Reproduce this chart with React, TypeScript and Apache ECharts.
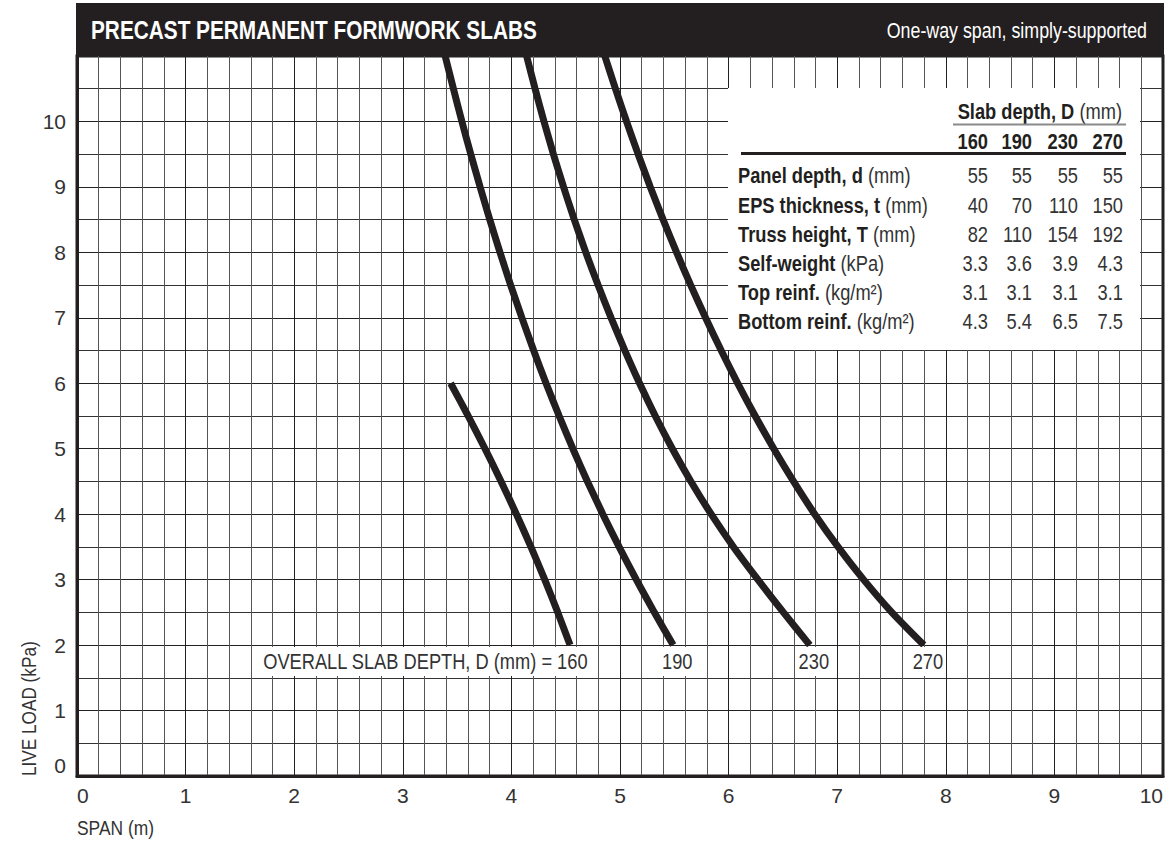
import React, { useEffect, useRef } from 'react';
import * as echarts from 'echarts';

const FONT = "'Liberation Sans', Arial, Helvetica, sans-serif";
const INK = '#231f20';
const TEXT = '#333333';

// Axis tick labels
const xTicks = [0, 1, 2, 3, 4, 5, 6, 7, 8, 9, 10];
const yTicks = [0, 1, 2, 3, 4, 5, 6, 7, 8, 9, 10];

// Curves: [span (m), live load (kPa)]
const curve160: number[][] = [
  [3.44, 6.0], [3.602, 5.5], [3.757, 5.0], [3.905, 4.5], [4.046, 4.0], [4.18, 3.5], [4.307, 3.0], [4.427, 2.5], [4.54, 2.0],
];
const curve190: number[][] = [
  [3.39, 11], [3.466, 10.5], [3.544, 10], [3.626, 9.5], [3.712, 9], [3.801, 8.5], [3.895, 8], [3.993, 7.5], [4.097, 7],
  [4.205, 6.5], [4.319, 6], [4.44, 5.5], [4.566, 5], [4.7, 4.5], [4.842, 4], [4.992, 3.5], [5.15, 3.0], [5.316, 2.5], [5.49, 2.0],
];
const curve230: number[][] = [
  [4.14, 11], [4.218, 10.5], [4.3, 10], [4.387, 9.5], [4.48, 9], [4.579, 8.5], [4.685, 8], [4.798, 7.5], [4.918, 7],
  [5.045, 6.5], [5.18, 6.0], [5.325, 5.5], [5.482, 5.0], [5.653, 4.5],
  [5.84, 4.0], [6.045, 3.5], [6.27, 3.0], [6.505, 2.5], [6.748, 2.0],
];
const curve270: number[][] = [
  [4.86, 11], [4.958, 10.5], [5.06, 10], [5.167, 9.5], [5.279, 9], [5.397, 8.5], [5.521, 8], [5.651, 7.5], [5.788, 7],
  [5.932, 6.5], [6.084, 6.0], [6.245, 5.5], [6.416, 5.0], [6.598, 4.5],
  [6.793, 4.0], [7.008, 3.5], [7.243, 3.0], [7.503, 2.5], [7.798, 2.0],
];
const curves = [curve160, curve190, curve230, curve270];
const curveLabels = ['OVERALL SLAB DEPTH, D (mm) = 160', '190', '230', '270'];
const labelLoad = 1.75;

// Table
const slabDepths = ['160', '190', '230', '270'];
const rowBold = ['Panel depth, d', 'EPS thickness, t', 'Truss height, T', 'Self-weight', 'Top reinf.', 'Bottom reinf.'];
const rowUnit = ['(mm)', '(mm)', '(mm)', '(kPa)', '(kg/m²)', '(kg/m²)'];
const panelDepth = ['55', '55', '55', '55'];
const epsThickness = ['40', '70', '110', '150'];
const trussHeight = ['82', '110', '154', '192'];
const selfWeight = ['3.3', '3.6', '3.9', '4.3'];
const topReinf = ['3.1', '3.1', '3.1', '3.1'];
const bottomReinf = ['4.3', '5.4', '6.5', '7.5'];
const rowValues = [panelDepth, epsThickness, trussHeight, selfWeight, topReinf, bottomReinf];

function txt(x: number, y: number, text: string, font: string, fill: string, align: string, scaleX: number, z = 11, extra: any = {}) {
  return {
    type: 'text', z, x, y, scaleX,
    style: { text, font, fill, align, verticalAlign: 'middle', ...extra },
  };
}

function richLabel(x: number, y: number, bold: string, reg: string, align: string, size: number, scaleX: number) {
  return {
    type: 'text', z: 11, x, y, scaleX,
    style: {
      text: `{b|${bold}}{r| ${reg}}`, align, verticalAlign: 'middle', fill: INK,
      font: `${size}px ${FONT}`,
      rich: {
        b: { fontFamily: FONT, fontSize: size, fontWeight: 'bold', fill: INK },
        r: { fontFamily: FONT, fontSize: size, fill: TEXT },
      },
    },
  };
}

function buildOption(labelPts: number[][] | null) {
  const colRight = [988, 1032, 1078, 1123];
  const rowY0 = 175.8;
  const rowStep = 29.2;
  const T = 21.5;
  const K = 0.85;
  const graphic: any[] = [
    // header bar
    { type: 'rect', z: 100, shape: { x: 76, y: 3, width: 1088, height: 53 }, style: { fill: INK } },
    txt(91, 30, 'PRECAST PERMANENT FORMWORK SLABS', `bold 26px ${FONT}`, '#ffffff', 'left', 0.8, 101),
    txt(1147, 30, 'One-way span, simply-supported', `22px ${FONT}`, '#ffffff', 'right', 0.81, 101),
    // axis names
    txt(77, 828, 'SPAN (m)', `20px ${FONT}`, TEXT, 'left', 0.87, 20),
    { ...txt(29, 776, 'LIVE LOAD (kPa)', `20px ${FONT}`, TEXT, 'left', 0.86, 20), rotation: Math.PI / 2 },
    // table box
    { type: 'rect', z: 10, shape: { x: 728, y: 88, width: 412, height: 262 }, style: { fill: '#ffffff' } },
    richLabel(1122, 111.5, 'Slab depth, D', '(mm)', 'right', T, K),
    { type: 'line', z: 11, shape: { x1: 953, y1: 124.5, x2: 1126, y2: 124.5 }, style: { stroke: '#8a8a8a', lineWidth: 2 } },
    { type: 'line', z: 11, shape: { x1: 741, y1: 153.5, x2: 1126, y2: 153.5 }, style: { stroke: INK, lineWidth: 3 } },
  ];
  slabDepths.forEach((d, j) => {
    graphic.push(txt(colRight[j], 141, d, `bold ${T}px ${FONT}`, INK, 'right', K));
  });
  rowBold.forEach((lab, i) => {
    const y = rowY0 + rowStep * i;
    graphic.push(richLabel(738, y, lab, rowUnit[i], 'left', T, K));
    rowValues[i].forEach((v, j) => {
      graphic.push(txt(colRight[j], y, v, `${T}px ${FONT}`, TEXT, 'right', K));
    });
  });
  if (labelPts) {
    labelPts.forEach((p, i) => {
      graphic.push(
        txt(i === 0 ? p[0] + 20 : p[0] + 4, p[1], curveLabels[i], `22px ${FONT}`, TEXT, i === 0 ? 'right' : 'center', 0.83, 30, {
          backgroundColor: '#ffffff',
          padding: [4, 3, 3, 3],
        })
      );
    });
  }

  const lineSeries = curves.map((c, i) => ({
    type: 'line',
    name: slabDepths[i],
    data: c,
    symbol: 'none',
    showSymbol: false,
    smooth: 0.25,
    silent: true,
    z: 3,
    lineStyle: { color: INK, width: 7, cap: 'butt' },
  }));

  return {
    animation: false,
    backgroundColor: '#ffffff',
    grid: { left: 77, right: 13, top: 56, bottom: 67, show: true, borderColor: INK, borderWidth: 3, backgroundColor: 'transparent' },
    xAxis: {
      type: 'value', min: 0, max: 10, interval: 1,
      axisLine: { show: true, onZero: false, lineStyle: { color: INK, width: 3 } },
      axisTick: { show: false },
      axisLabel: {
        fontFamily: FONT, fontSize: 21, color: TEXT, margin: 9,
        alignMinLabel: 'left', alignMaxLabel: 'right',
        formatter: (v: number) => (xTicks.includes(v) ? String(v) : ''),
      },
      splitLine: { show: true, lineStyle: { color: '#222222', width: 1 } },
      minorTick: { show: false, splitNumber: 5 },
      minorSplitLine: { show: true, lineStyle: { color: '#555555', width: 1 } },
    },
    yAxis: {
      type: 'value', min: 0, max: 11, interval: 1,
      axisLine: { show: true, onZero: false, lineStyle: { color: INK, width: 3 } },
      axisTick: { show: false },
      axisLabel: {
        fontFamily: FONT, fontSize: 21, color: TEXT, margin: 11,
        verticalAlignMinLabel: 'bottom',
        formatter: (v: number) => (yTicks.includes(v) ? String(v) : ''),
      },
      splitLine: { show: true, lineStyle: { color: '#222222', width: 1 } },
      minorTick: { show: false, splitNumber: 2 },
      minorSplitLine: { show: true, lineStyle: { color: '#333333', width: 1 } },
    },
    series: lineSeries,
    graphic,
  };
}

export default function App() {
  const ref = useRef<HTMLDivElement>(null);
  useEffect(() => {
    if (!ref.current) return;
    const chart = echarts.init(ref.current, undefined, { renderer: 'svg' });
    chart.setOption(buildOption(null) as any);
    const pts = curves.map((c) => chart.convertToPixel({ gridIndex: 0 }, [c[c.length - 1][0], labelLoad]) as number[]);
    chart.setOption(buildOption(pts) as any, { notMerge: true });
    return () => chart.dispose();
  }, []);
  return (
    <div
      ref={ref}
      style={{ position: 'fixed', left: 0, top: 0, width: 1176, height: 843, background: '#ffffff' }}
    />
  );
}
